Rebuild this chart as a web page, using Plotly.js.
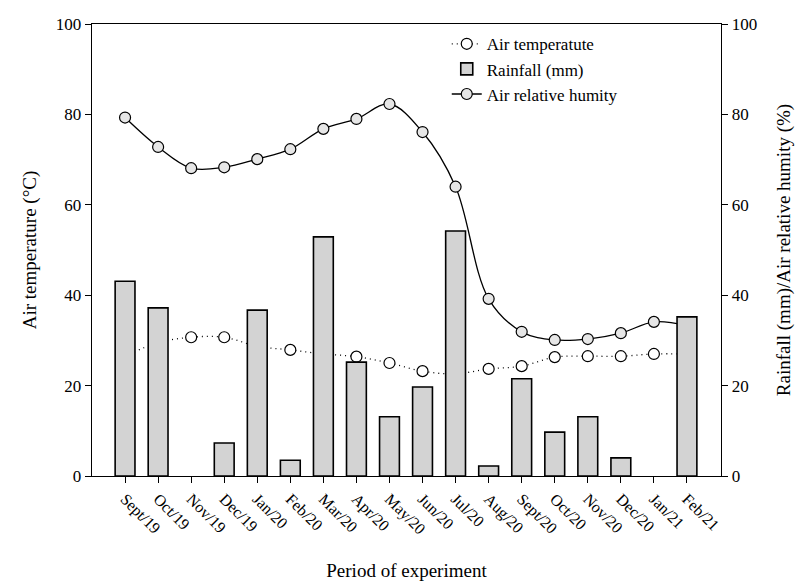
<!DOCTYPE html>
<html><head><meta charset="utf-8">
<script src="https://cdn.plot.ly/plotly-3.0.1.min.js"></script>
<style>html,body{margin:0;padding:0;background:#fff}#chart{width:800px;height:584px}</style>
</head><body><div id="chart"></div>
<script>
const months = ["Sept/19","Oct/19","Nov/19","Dec/19","Jan/20","Feb/20","Mar/20","Apr/20","May/20","Jun/20","Jul/20","Aug/20","Sept/20","Oct/20","Nov/20","Dec/20","Jan/21","Feb/21"];
const airTemperature = [26.5,29.5,30.7,30.7,28.7,27.9,27.0,26.4,25.0,23.2,22.6,23.7,24.3,26.3,26.5,26.5,27.0,27.0];
const rainfall = [43.1,37.2,0,7.3,36.7,3.5,52.9,25.2,13.1,19.7,54.2,2.2,21.5,9.7,13.1,4.0,0,35.2];
const humidity = [79.3,72.8,68.1,68.3,70.1,72.3,76.8,79.0,82.3,76.1,64.0,39.2,31.9,30.1,30.3,31.6,34.1,33.3];

const F = "'Liberation Serif', 'DejaVu Serif', serif";
const data = [
  {x: months, y: airTemperature, type: "scatter", mode: "lines+markers", name: "Air temperatute",
   xaxis: "x", yaxis: "y",
   line: {shape: "spline", color: "#000", width: 1.3, dash: "1px,4px"},
   marker: {symbol: "circle", size: 11, color: "#fff", line: {color: "#000", width: 1.2}}},
  {x: months, y: rainfall, type: "bar", name: "Rainfall (mm)", xaxis: "x", yaxis: "y2",
   width: 0.6, marker: {color: "#d3d3d3", line: {color: "#000", width: rainfall.map(v => v > 0 ? 1.6 : 0)}}},
  {x: months, y: humidity, type: "scatter", mode: "lines+markers", name: "Air relative humity",
   xaxis: "x", yaxis: "y",
   line: {shape: "spline", color: "#000", width: 1.3},
   marker: {symbol: "circle", size: 11, color: "#e6e6e6", line: {color: "#000", width: 1.2}}}
];
const layout = {
  width: 800, height: 584,
  margin: {l: 92, r: 79, t: 24, b: 108},
  paper_bgcolor: "#fff", plot_bgcolor: "#fff",
  font: {family: F, size: 16, color: "#000"},
  showlegend: true,
  legend: {x: 0.564, y: 0.995, xanchor: "left", yanchor: "top", bgcolor: "rgba(0,0,0,0)",
           font: {family: F, size: 17}, tracegroupgap: 0},
  xaxis: {type: "category", range: [-1.0, 18.03], showline: true, linecolor: "#000", linewidth: 1.3,
          mirror: true, ticks: "outside", ticklen: 6, tickcolor: "#000", tickangle: 45,
          showgrid: false, zeroline: false, tickfont: {family: F, size: 16},
          title: {text: "Period of experiment", font: {family: F, size: 19}, standoff: 26}},
  yaxis: {range: [0, 100], tickvals: [0,20,40,60,80,100], showline: true, linecolor: "#000", linewidth: 1.3,
          ticks: "outside", ticklen: 6, tickcolor: "#000", showgrid: false, zeroline: false,
          tickfont: {family: F, size: 17},
          title: {text: "Air temperature (°C)", font: {family: F, size: 19}, standoff: 14}},
  yaxis2: {range: [0, 100], tickvals: [0,20,40,60,80,100], overlaying: "y", side: "right",
           showline: true, linecolor: "#000", linewidth: 1.3, ticks: "outside", ticklen: 6, tickcolor: "#000",
           showgrid: false, zeroline: false, tickfont: {family: F, size: 17},
           title: {text: "Rainfall (mm)/Air relative humity (%)", font: {family: F, size: 19}, standoff: 20}}
};
Plotly.newPlot("chart", data, layout, {displayModeBar: false, staticPlot: true});
</script></body></html>
